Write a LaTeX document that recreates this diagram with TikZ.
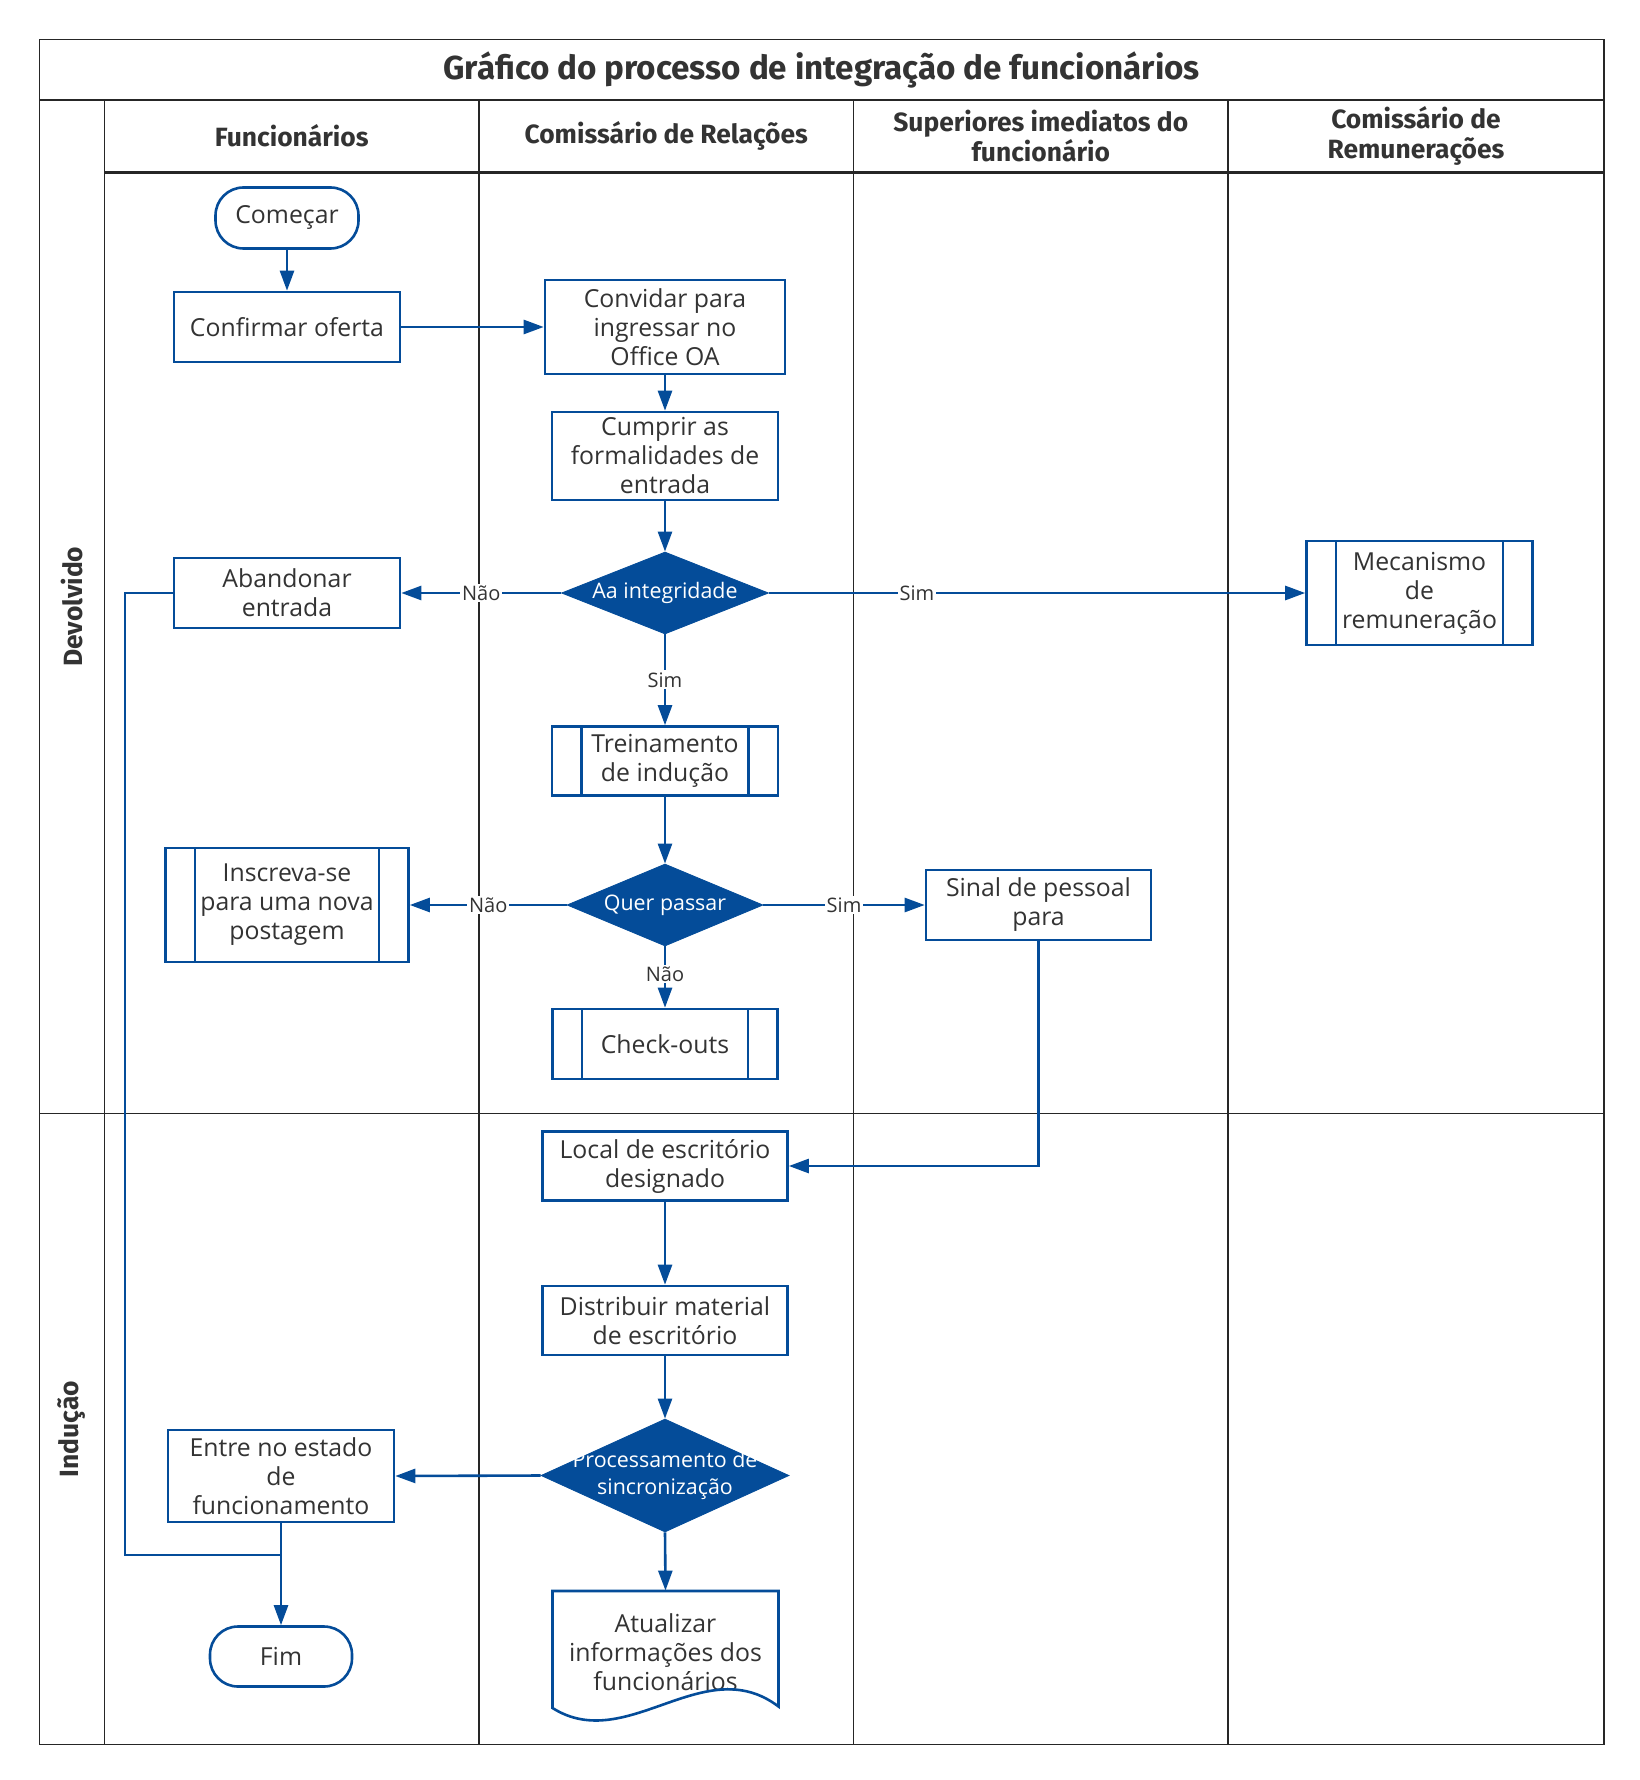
\documentclass[tikz,border=0pt]{standalone}
\usepackage{fontspec}
\setmainfont{Open Sans}
\newfontfamily\headfont{Fira Sans}
\usepackage{xcolor}
\usepackage{tikz}
\usetikzlibrary{shapes.geometric,arrows.meta,positioning,calc}
\definecolor{flowblue}{RGB}{4,76,153}
\definecolor{inktext}{RGB}{51,51,51}

\begin{document}
\begin{tikzpicture}[
        x=0.5pt, y=-0.5pt,
        frame/.style={
            draw=black!85,
            line width=0.8pt
        },
        headrule/.style={
            draw=black!85,
            line width=1.5pt
        },
        titletext/.style={
            text=inktext,
            font=\headfont\bfseries\fontsize{16.6}{18}\selectfont
        },
        headtext/.style={
            text=inktext,
            align=center,
            font=\headfont\bfseries\fontsize{13.2}{14.8}\selectfont
        },
        stepbox/.style={
            rectangle,
            draw=flowblue,
            line width=1.3pt,
            fill=white,
            text=inktext,
            align=center,
            inner sep=2pt,
            font=\fontsize{12.4}{14.5}\selectfont
        },
        terminal/.style={
            stepbox,
            rounded corners=14pt
        },
        subproc/.style={
            stepbox,
            path picture={
                \draw[flowblue, line width=1.3pt]
                    ([xshift=14.75pt]path picture bounding box.north west) --
                    ([xshift=14.75pt]path picture bounding box.south west)
                    ([xshift=-14.75pt]path picture bounding box.north east) --
                    ([xshift=-14.75pt]path picture bounding box.south east);
            }
        },
        decision/.style={
            diamond,
            draw=flowblue,
            fill=flowblue,
            inner sep=0pt
        },
        decisiontext/.style={
            text=white,
            align=center,
            font=\fontsize{10.7}{13.3}\selectfont
        },
        doctext/.style={
            text=inktext,
            align=center,
            inner sep=0pt,
            font=\fontsize{12.4}{14.5}\selectfont
        },
        docline/.style={
            draw=flowblue,
            line width=1.3pt,
            line join=miter
        },
        flow/.style={
            draw=flowblue,
            line width=1.3pt,
            -{Triangle[length=10pt,width=7pt]}
        },
        joinline/.style={
            draw=flowblue,
            line width=1.3pt
        },
        branch/.style={
            fill=white,
            text=inktext,
            inner sep=1pt,
            font=\fontsize{10}{12}\selectfont
        }
    ]
        \useasboundingbox (0,0) rectangle (1639,1780);

        % Swimlane frame
        \draw[frame] (39.5,39.5) rectangle (1604,1744.5);
        \draw[frame] (39.5,100) -- (1604,100);
        \draw[frame] (104.5,100) -- (104.5,1744.5);
        \draw[headrule] (104.5,172.5) -- (1604,172.5);
        \foreach \x in {479,853.5,1228}
            \draw[frame] (\x,100) -- (\x,1744.5);
        \draw[frame] (39.5,1113.5) -- (1604,1113.5);

        % Titles
        \node[titletext] (title) at (821.75,70) {Gráfico do processo de integração de funcionários};
        \node[headtext] (hemp) at (291.75,136) {Funcionários};
        \node[headtext] (hrel) at (666.25,136) {Comissário de Relações};
        \node[headtext] (hsup) at (1040.75,136) {Superiores imediatos do\\funcionário};
        \node[headtext] (hpay) at (1416,136) {Comissário de\\Remunerações};
        \node[headtext, rotate=90] (lret) at (72,606.75) {Devolvido};
        \node[headtext, rotate=90] (lind) at (72,1429) {Indução};

        % Steps
        \node[terminal, minimum width=71.5pt, minimum height=30.5pt] (start) at (287,218) {Começar};
        \node[stepbox, minimum width=113pt, minimum height=35pt] (confirm) at (287,327) {Confirmar oferta};
        \node[stepbox, minimum width=120pt, minimum height=47pt] (invite) at (665,327) {Convidar para\\ingressar no\\Office OA};
        \node[stepbox, minimum width=113pt, minimum height=44pt] (formal) at (665,456) {Cumprir as\\formalidades de\\entrada};
        \node[decision, minimum width=103.5pt, minimum height=41pt,
              label={[decisiontext]center:Aa integridade}] (integ) at (665,593) {};
        \node[stepbox, minimum width=113pt, minimum height=35pt] (abandon) at (287,593) {Abandonar\\entrada};
        \node[subproc, minimum width=113pt, minimum height=52pt] (payroll) at (1419.5,593) {Mecanismo\\de\\remuneração};
        \node[subproc, minimum width=113pt, minimum height=34.5pt] (training) at (665,761) {Treinamento\\de indução};
        \node[subproc, minimum width=121.5pt, minimum height=57pt] (signup) at (287,905) {Inscreva-se\\para uma nova\\postagem};
        \node[decision, minimum width=98pt, minimum height=41pt,
              label={[decisiontext]center:Quer passar}] (pass) at (665,905) {};
        \node[stepbox, minimum width=112.5pt, minimum height=35pt] (sign) at (1038.5,905) {Sinal de pessoal\\para};
        \node[subproc, minimum width=112.5pt, minimum height=35pt] (checkout) at (665,1044) {Check-outs};
        \node[stepbox, minimum width=122.5pt, minimum height=34.5pt] (office) at (665,1166) {Local de escritório\\designado};
        \node[stepbox, minimum width=122.5pt, minimum height=34.5pt] (supplies) at (665,1320.5) {Distribuir material\\de escritório};
        \node[decision, minimum width=124pt, minimum height=56.5pt,
              label={[decisiontext]center:Processamento de\\sincronização}] (sync) at (665,1475.5) {};
        \node[stepbox, minimum width=113pt, minimum height=46pt] (enter) at (281,1476) {Entre no estado\\de\\funcionamento};
        \node[terminal, minimum width=71pt, minimum height=30pt] (finish) at (281,1656.5) {Fim};
        \node[doctext, minimum width=113pt, minimum height=61pt] (update) at (665.5,1652) {Atualizar\\informações dos\\funcionários};
        \draw[docline] (552.5,1708) -- (552.5,1591) -- (778.5,1591) -- (778.5,1706.5)
            .. controls (704,1650) and (627,1755) .. (552.5,1708) -- cycle;

        % Flow
        \coordinate (bend) at (125,1555);
        \coordinate (merge) at (281,1555);
        \draw[flow] (start) -- (confirm);
        \draw[flow] (confirm) -- (invite);
        \draw[flow] (invite) -- (formal);
        \draw[flow] (formal) -- (integ);
        \draw[flow] (integ.west) -- node[branch] {Não} (abandon.east);
        \draw[flow] (integ.east) -- node[branch, pos=0.276] {Sim} (payroll.west);
        \draw[flow] (integ.south) -- node[branch] {Sim} (training.north);
        \draw[flow] (training) -- (pass);
        \draw[flow] (pass.west) -- node[branch] {Não} (signup.east);
        \draw[flow] (pass.east) -- node[branch] {Sim} (sign.west);
        \draw[flow] (pass.south) -- node[branch, pos=0.45] {Não} (checkout.north);
        \draw[flow] (sign.south) |- (office.east);
        \draw[flow] (office) -- (supplies);
        \draw[flow] (supplies) -- (sync);
        \draw[flow] (sync.west) -- (enter.east);
        \draw[flow] (sync.south) -- (update.north);
        \draw[joinline] (abandon.west) -| (bend) -- (merge);
        \draw[flow] (enter.south) -- (finish.north);
    \end{tikzpicture}
\end{document}
